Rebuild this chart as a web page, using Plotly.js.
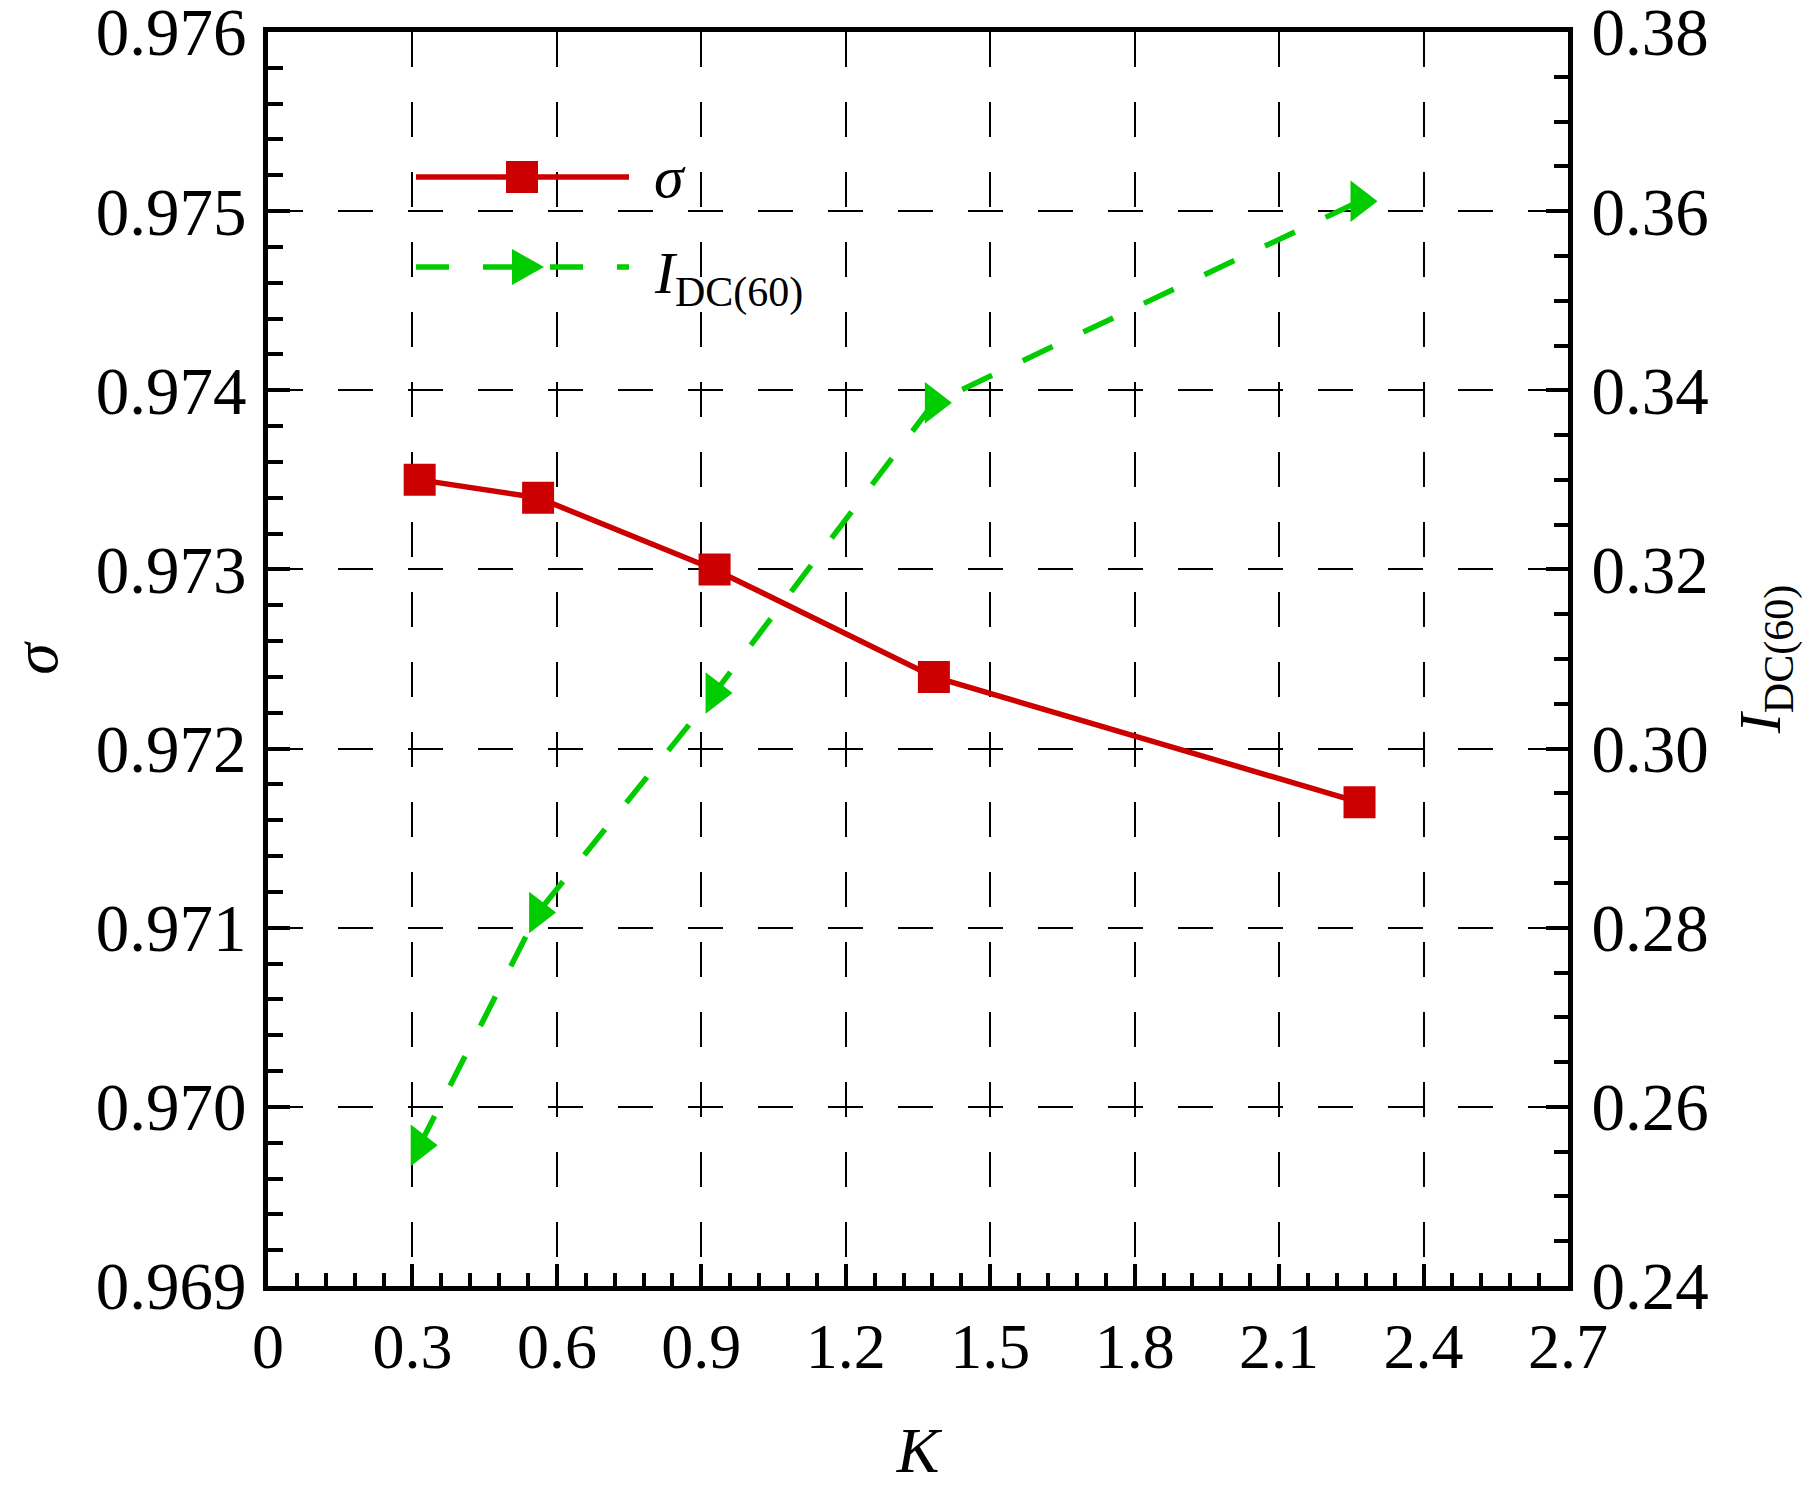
<!DOCTYPE html>
<html>
<head>
<meta charset="utf-8">
<script src="https://cdn.plot.ly/plotly-3.0.1.min.js"></script>
<style>
  body { margin: 0; background: #fff; }
  #chart { width: 1819px; height: 1486px; }
</style>
</head>
<body>
<div id="chart"></div>
<script>
// values
const K = [0.315, 0.561, 0.9275, 1.383, 2.267];
const sigma = [0.9735, 0.9734, 0.9730, 0.9724, 0.9717];
const idc60 = [0.2557, 0.2817, 0.3062, 0.3386, 0.3611];

const xTicks = [0, 0.3, 0.6, 0.9, 1.2, 1.5, 1.8, 2.1, 2.4, 2.7];
const sigmaTicks = [0.969, 0.970, 0.971, 0.972, 0.973, 0.974, 0.975, 0.976];
const idcTicks = [0.24, 0.26, 0.28, 0.30, 0.32, 0.34, 0.36, 0.38];

const RED = '#cc0000';
const GREEN = '#00cc00';
const FONT = 'Liberation Serif, Times New Roman, serif';

function plotChart(el) {

    let trace = {
        x: K,
        y: sigma,
        name: 'σ',
        mode: 'lines+markers',
        type: 'scatter',
        line: {color: RED, width: 5.5},
        marker: {symbol: 'square', size: 32, color: RED, line: {width: 0}}
    };

    let trace2 = {
        x: K,
        y: idc60,
        name: 'I DC(60)',
        yaxis: 'y2',
        mode: 'lines+markers',
        type: 'scatter',
        line: {color: GREEN, width: 5.5, dash: '33px,34px'},
        marker: {symbol: 'triangle-right', size: 36, color: GREEN, line: {width: 0}}
    };

    // plot box in pixels: x 268..1568, y 32..1286
    const px = v => (v - 268) / 1300;
    const py = v => (1286 - v) / 1254;

    const axisCommon = {
        showline: true,
        linecolor: 'black',
        linewidth: 5,
        ticks: 'inside',
        ticklen: 22,
        tickwidth: 4,
        tickcolor: 'black',
        tickfont: {family: FONT, size: 67, color: 'black'},
        ticklabeloverflow: 'allow',
        zeroline: false,
        automargin: false
    };

    const layout = {
        width: 1819,
        height: 1486,
        margin: {l: 268, r: 251, t: 32, b: 200},
        paper_bgcolor: 'white',
        plot_bgcolor: 'white',
        showlegend: false,
        font: {family: FONT, color: 'black'},
        xaxis: Object.assign({}, axisCommon, {
            range: [0, 2.7],
            tickvals: xTicks,
            ticktext: xTicks.map(String),
            tickfont: {family: FONT, size: 64, color: 'black'},
            mirror: true,
            showgrid: true,
            gridcolor: 'black',
            gridwidth: 1.6,
            griddash: '35px,35px',
            ticklabelstandoff: 0,
            minor: {dtick: 0.06, tick0: 0, ticks: 'inside', ticklen: 13, tickwidth: 4, tickcolor: 'black', showgrid: false},
            title: {text: '<i>K</i>', font: {family: FONT, size: 64}, standoff: 63}
        }),
        yaxis: Object.assign({}, axisCommon, {
            range: [0.969, 0.976],
            tickvals: sigmaTicks,
            ticktext: sigmaTicks.map(v => v.toFixed(3)),
            showgrid: true,
            gridcolor: 'black',
            gridwidth: 1.6,
            griddash: '35px,35px',
            ticklabelstandoff: 3,
            minor: {dtick: 0.0002, tick0: 0.969, ticks: 'inside', ticklen: 15, tickwidth: 4, tickcolor: 'black', showgrid: false},
            title: {text: '<i>σ</i>', font: {family: FONT, size: 64}, standoff: 47}
        }),
        yaxis2: Object.assign({}, axisCommon, {
            range: [0.24, 0.38],
            tickvals: idcTicks,
            ticktext: idcTicks.map(v => v.toFixed(2)),
            overlaying: 'y',
            side: 'right',
            showgrid: false,
            ticklabelstandoff: 5,
            minor: {dtick: 0.005, tick0: 0.24, ticks: 'inside', ticklen: 14, tickwidth: 4, tickcolor: 'black', showgrid: false},
            title: {text: '<i>I</i><sub>DC(60)</sub>', font: {family: FONT, size: 60}, standoff: 32}
        }),
        // hand drawn legend in the top left corner
        shapes: [
            {type: 'line', xref: 'paper', yref: 'paper', x0: px(416), x1: px(629), y0: py(177), y1: py(177),
             line: {color: RED, width: 5.5}},
            {type: 'rect', xref: 'paper', yref: 'paper', xsizemode: 'pixel', ysizemode: 'pixel',
             xanchor: px(522), yanchor: py(177), x0: -16, x1: 16, y0: -16, y1: 16,
             fillcolor: RED, line: {width: 0}},
            {type: 'line', xref: 'paper', yref: 'paper', x0: px(416), x1: px(629), y0: py(267), y1: py(267),
             line: {color: GREEN, width: 5.5, dash: '33px,34px'}},
            {type: 'path', xref: 'paper', yref: 'paper', xsizemode: 'pixel', ysizemode: 'pixel',
             xanchor: px(522), yanchor: py(267), path: 'M-10,-18 L-10,18 L22,0 Z',
             fillcolor: GREEN, line: {width: 0}}
        ],
        annotations: [
            {xref: 'paper', yref: 'paper', x: px(652), y: py(177), xanchor: 'left', yanchor: 'middle',
             text: '<i>σ</i>', showarrow: false, font: {family: FONT, size: 60, color: 'black'}},
            {xref: 'paper', yref: 'paper', x: px(652), y: py(278), xanchor: 'left', yanchor: 'middle',
             text: '<i>I</i><sub>DC(60)</sub>', showarrow: false, font: {family: FONT, size: 60, color: 'black'}}
        ]
    };

    Plotly.newPlot(el, [trace, trace2], layout, {displayModeBar: false});
}

plotChart('chart');
</script>
</body>
</html>
